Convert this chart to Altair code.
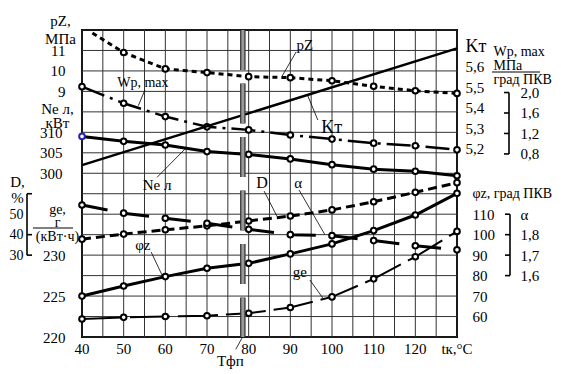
import altair as alt
import pandas as pd

# ---------------- values ----------------
T = [40, 50, 60, 70, 80, 90, 100, 110, 120, 130]
PZ_T = [42.5, 50, 60, 70, 80, 90, 100, 110, 120, 130]
PZ = [11.85, 10.9, 10.1, 9.92, 9.72, 9.67, 9.52, 9.25, 9.03, 8.9]          # МПа
WP = [2.115, 1.79, 1.53, 1.33, 1.27, 1.17, 1.09, 1.01, 0.96, 0.88]          # МПа/град ПКВ
NE = [309.0, 307.8, 306.9, 305.3, 304.6, 303.5, 302.1, 301.0, 300.5, 299.4] # кВт
KT_T = [40, 130]
KT = [5.14, 5.71]
D = [37.8, 40.3, 42.4, 44.3, 46.7, 49.1, 52.1, 56.1, 60.7, 65.4]            # %
ALPHA = [1.945, 1.905, 1.88, 1.856, 1.826, 1.80, 1.795, 1.771, 1.746, 1.726]
PHI = [70.0, 74.9, 79.5, 83.6, 86.0, 90.6, 95.5, 102.0, 109.6, 120.2]       # град ПКВ
GE = [222.2, 222.4, 222.5, 222.6, 222.9, 223.6, 224.9, 227.1, 229.8, 232.9] # г/(кВт·ч)
T_FP = 78.6

GRID_T = list(range(40, 131, 5))      # vertical grid lines, °C
GRID_PZ = list(range(-3, 13))         # horizontal grid lines, in p_z units
X_TICKS = [40, 50, 60, 70, 80, 90, 100, 110, 120, 130]
X_LABELS = ["40", "50", "60", "70", "80", "90", "100", "110", "120", "tк,°C"]

FONT = "Liberation Serif, Times New Roman, serif"
GRID = "#333333"
W, H = 375, 307

xs = alt.Scale(domain=[40, 130], nice=False, zero=False)
PZ_DOM = [-3, 12]


def pzs():
    return alt.Scale(domain=PZ_DOM, nice=False, zero=False)


def comma(fmt):
    return f"replace(format(datum.value, '{fmt}'), '.', ',')"


def yaxis(**kw):
    base = dict(grid=False, ticks=False, domain=False, labelFont=FONT, labelFontSize=15,
                labelColor="black", labelOverlap=False, titleFont=FONT, titleFontSize=15,
                titleFontWeight="normal", titleColor="black", titleAngle=0,
                titleAlign="center", titleBaseline="alphabetic")
    base.update(kw)
    return alt.Axis(**base)


def group(ts, vals, dom, axis, width=3.0, dash=None, mark_min=40, ann=None, leaders=None,
          extra=None, blue_first=False):
    ys = lambda: alt.Scale(domain=dom, nice=False, zero=False)
    df = pd.DataFrame({"t": ts, "v": vals})
    kw = dict(color="black", strokeWidth=width)
    if dash:
        kw["strokeDash"] = dash
    layers = [alt.Chart(df).mark_line(**kw).encode(
        x=alt.X("t:Q", scale=xs, axis=None),
        y=alt.Y("v:Q", scale=ys(), axis=axis))]
    if mark_min is not None:
        enc = dict(x=alt.X("t:Q", scale=xs, axis=None), y=alt.Y("v:Q", scale=ys(), axis=None))
        if blue_first:
            enc["stroke"] = alt.condition("datum.t == 40", alt.value("#2323b4"), alt.value("black"))
        layers.append(alt.Chart(df).transform_filter(f"datum.t >= {mark_min}").mark_point(
            shape="circle", filled=True, fill="white", stroke="black", size=32,
            strokeWidth=2, opacity=1).encode(**enc))
    if leaders:
        ld = pd.DataFrame(leaders, columns=["t", "v", "t2", "v2"])
        layers.append(alt.Chart(ld).mark_rule(color="black", strokeWidth=0.8).encode(
            x=alt.X("t:Q", scale=xs, axis=None), x2="t2:Q",
            y=alt.Y("v:Q", scale=ys(), axis=None), y2="v2:Q"))
    if ann:
        ad = pd.DataFrame(ann, columns=["t", "v", "label", "fs"])
        layers.append(alt.Chart(ad).mark_text(font=FONT, color="black", align="center",
                                              baseline="middle").encode(
            x=alt.X("t:Q", scale=xs, axis=None), y=alt.Y("v:Q", scale=ys(), axis=None),
            text="label:N", size=alt.Size("fs:Q", scale=None)))
    if extra:
        layers.extend(extra(ys))
    return layers


# grid as rules in p_z units
gx = pd.DataFrame({"t": GRID_T})
gx["lo"] = float(PZ_DOM[0])
gx["hi"] = float(PZ_DOM[1])
gy = pd.DataFrame({"v": GRID_PZ})
gy["t0"] = 40.0
gy["t1"] = 130.0
xl = pd.DataFrame({"t": X_TICKS, "label": X_LABELS})
xl["v"] = float(PZ_DOM[0])
g_grid = [
    alt.Chart(gx).mark_rule(color=GRID, strokeWidth=1, strokeDash=[1, 0]).encode(
        x=alt.X("t:Q", scale=xs, axis=None),
        y=alt.Y("hi:Q", scale=pzs(), axis=None), y2="lo:Q"),
    alt.Chart(gy).mark_rule(color=GRID, strokeWidth=1, strokeDash=[1, 0]).encode(
        x=alt.X("t0:Q", scale=xs, axis=None), x2="t1:Q",
        y=alt.Y("v:Q", scale=pzs(), axis=None)),
    alt.Chart(xl).mark_text(font=FONT, fontSize=15, color="black", align="center",
                            baseline="middle", dy=12).encode(
        x=alt.X("t:Q", scale=xs, axis=None),
        y=alt.Y("v:Q", scale=pzs(), axis=None),
        text="label:N"),
]

g_pz = group(PZ_T, PZ, PZ_DOM,
             yaxis(orient="left", values=[9, 10, 11], labelPadding=17,
                   title=["pZ,", "МПа"], titleX=-22, titleY=-5, titleLineHeight=18),
             width=3, dash=[5, 4], mark_min=50,
             ann=[(75.6, -4.15, "Tфп", 15), (93.5, 11.27, "pZ", 15)],
             leaders=[(91.4, 10.93, 88.0, 9.74), (76.9, -3.6, 78.4, -3.05)])


def wp_extra(ys):
    br = pd.DataFrame({"lo": [0.8], "hi": [2.0]})
    tk = pd.DataFrame({"v": [0.8, 1.2, 1.6, 2.0]})
    one = pd.DataFrame({"a": [0]})
    return [
        alt.Chart(br).mark_rule(color="black", strokeWidth=1.6).encode(
            x=alt.value(427), y=alt.Y("lo:Q", scale=ys(), axis=None), y2="hi:Q"),
        alt.Chart(tk).mark_rule(color="black", strokeWidth=1.6).encode(
            x=alt.value(422), x2=alt.value(427), y=alt.Y("v:Q", scale=ys(), axis=None)),
        alt.Chart(one).mark_rule(color="black", strokeWidth=1).encode(
            x=alt.value(410), x2=alt.value(458), y=alt.value(42)),
    ]


g_wp = group(T, WP, [-2.778, 3.222],
             yaxis(orient="right", values=[0.8, 1.2, 1.6, 2.0], labelPadding=63,
                   labelExpr=comma(".1f"), title=["Wp, max", " МПа", "град ПКВ"],
                   titleX=36, titleY=25, titleAlign="left", titleFontSize=14,
                   titleLineHeight=14),
             width=2.5, dash=[24, 6, 3, 6],
             ann=[(54.6, 2.187, "Wp, max", 14)],
             leaders=[(55.1, 2.05, 53.5, 1.74)], extra=wp_extra)

g_ne = group(T, NE, [260, 335],
             yaxis(orient="left", values=[300, 305, 310], labelPadding=20,
                   title=["Nе л,", "кВт"], titleX=-25, titleY=83, titleLineHeight=14),
             width=3, blue_first=True,
             ann=[(58.0, 297.05, "Nе л", 15)],
             leaders=[(58.0, 299.0, 64.7, 305.9)])

g_kt = group(KT_T, KT, [4.3, 5.8],
             yaxis(orient="right", values=[5.2, 5.3, 5.4, 5.5, 5.6, 5.7], labelPadding=8,
                   labelOffset=-4,
                   labelExpr="datum.value > 5.65 ? 'Kт' : " + comma(".1f"),
                   labelFontSize={"condition": {"test": "datum.value > 5.65", "value": 18},
                                  "value": 15},
                   title=None),
             width=2.5, mark_min=None,
             ann=[(99.9, 5.321, "Kт", 18)],
             leaders=[(96.6, 5.36, 94.2, 5.478)])


def d_extra(ys):
    br = pd.DataFrame({"lo": [30], "hi": [60]})
    tk = pd.DataFrame({"v": [30, 40, 60]})
    return [
        alt.Chart(br).mark_rule(color="black", strokeWidth=1.6).encode(
            x=alt.value(-55), y=alt.Y("lo:Q", scale=ys(), axis=None), y2="hi:Q"),
        alt.Chart(tk).mark_rule(color="black", strokeWidth=1.6).encode(
            x=alt.value(-55), x2=alt.value(-50), y=alt.Y("v:Q", scale=ys(), axis=None)),
    ]


g_d = group(T, D, [-10, 140],
            yaxis(orient="left", values=[30, 40, 50], labelPadding=59, labelFontSize=14,
                  title=["D,", "%"], titleX=-65, titleY=156, titleLineHeight=16),
            width=3, dash=[9, 5],
            ann=[(83.2, 65.3, "D", 16)],
            leaders=[(83.7, 61.3, 86.8, 49.0)], extra=d_extra)


def a_extra(ys):
    br = pd.DataFrame({"lo": [1.6], "hi": [1.9]})
    tk = pd.DataFrame({"v": [1.6, 1.7, 1.8, 1.9]})
    return [
        alt.Chart(br).mark_rule(color="black", strokeWidth=1.6).encode(
            x=alt.value(428), y=alt.Y("lo:Q", scale=ys(), axis=None), y2="hi:Q"),
        alt.Chart(tk).mark_rule(color="black", strokeWidth=1.6).encode(
            x=alt.value(423), x2=alt.value(428), y=alt.Y("v:Q", scale=ys(), axis=None)),
    ]


g_a = group(T, ALPHA, [1.3, 2.8],
            yaxis(orient="right", values=[1.6, 1.7, 1.8, 1.9], labelPadding=63,
                  labelExpr="datum.value > 1.85 ? 'α' : " + comma(".1f"), title=None),
            width=3, dash=[26, 16],
            ann=[(91.9, 2.053, "α", 15)],
            leaders=[(92.1, 2.018, 98.3, 1.80)], extra=a_extra)

g_phi = group(T, PHI, [50, 200],
              yaxis(orient="right", values=[60, 70, 80, 90, 100, 110, 120], labelPadding=15,
                    labelExpr="datum.value > 115 ? 'φz, град ПКВ' : datum.label",
                    labelFontSize={"condition": {"test": "datum.value > 115", "value": 14},
                                   "value": 15},
                    title=None),
              width=3,
              ann=[(54.6, 95.0, "φz", 15)],
              leaders=[(56.6, 91.5, 59.5, 79.0)])


def ge_extra(ys):
    one = pd.DataFrame({"a": [0]})
    return [alt.Chart(one).mark_rule(color="black", strokeWidth=1).encode(
        x=alt.value(-49), x2=alt.value(-9), y=alt.value(198))]


g_ge = group(T, GE, [220, 257.5],
             yaxis(orient="left", values=[220, 225, 230], labelPadding=17,
                   title=["gе,", "г", "(кВт·ч)"], titleX=-25, titleY=183, titleFontSize=14,
                   titleLineHeight=13.5),
             width=2, dash=[40, 8],
             ann=[(92.3, 227.94, "gе", 15)],
             leaders=[(94.7, 226.96, 97.8, 224.76)], extra=ge_extra)

# T_fp marker bar
fp = pd.DataFrame({"t": [T_FP], "top": [PZ_DOM[1]], "bot": [PZ_DOM[0]]})
g_fp = [
    alt.Chart(fp).mark_rule(color=c, strokeWidth=w, strokeDash=[40, 13.5]).encode(
        x=alt.X("t:Q", scale=xs, axis=None),
        y=alt.Y("top:Q", scale=pzs(), axis=None), y2="bot:Q")
    for c, w in (("#333333", 5.5), ("#9a9a9a", 3))
]

all_layers = g_grid + g_pz + g_wp + g_ne + g_kt + g_d + g_a + g_phi + g_ge + g_fp

chart = alt.layer(*all_layers).resolve_scale(
    y="independent"
).properties(
    width=W, height=H,
    autosize=alt.AutoSizeParams(type="none"),
    padding={"left": 74, "top": 22, "right": 96, "bottom": 36},
    background="white",
).configure_view(stroke="black", strokeWidth=2)

chart.save("out.html", embed_options={"renderer": "svg", "actions": False})
